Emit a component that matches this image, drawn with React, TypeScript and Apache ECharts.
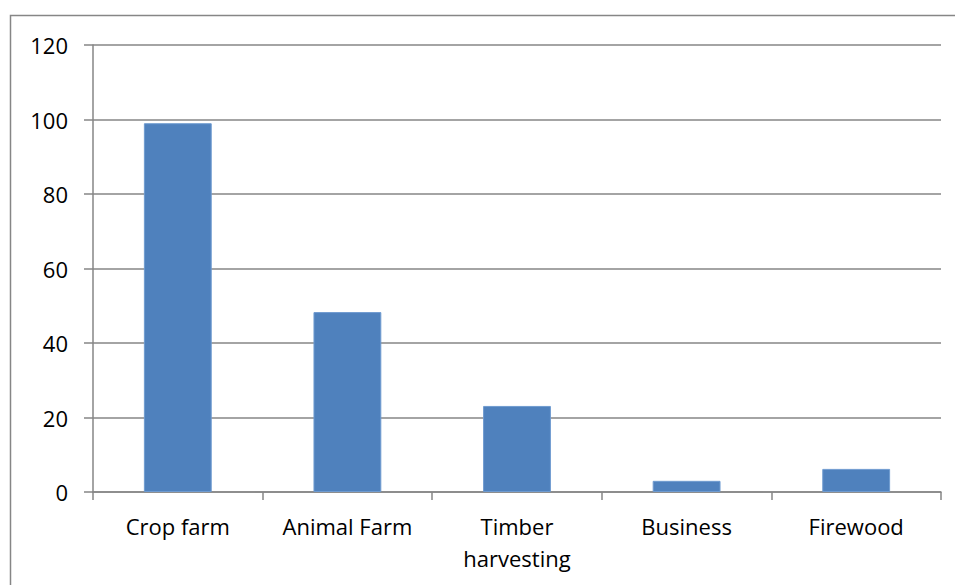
import React, { useEffect, useRef } from "react";
import * as echarts from "echarts";

const categories = ["Crop farm", "Animal Farm", "Timber\nharvesting", "Business", "Firewood"];
const values = [99, 48.3, 23.1, 3, 6.2];
const yTicks = { min: 0, max: 120, interval: 20 };

export default function App() {
  const ref = useRef<HTMLDivElement>(null);
  useEffect(() => {
    const chart = echarts.init(ref.current!, null, { renderer: "svg" });
    const font = "'Open Sans', sans-serif";
    chart.setOption({
      animation: false,
      backgroundColor: "#ffffff",
      graphic: [
        {
          type: "rect",
          shape: { x: 10.5, y: 15.5, width: 960, height: 600 },
          style: { fill: "none", stroke: "#868686", lineWidth: 1.5 },
          z: -1,
        },
      ],
      grid: { left: 93, right: 14, top: 45, bottom: 93, containLabel: false },
      xAxis: {
        type: "category",
        data: categories,
        boundaryGap: true,
        axisLine: { show: true, lineStyle: { color: "#868686", width: 1.5 } },
        axisTick: { show: true, alignWithLabel: false, length: 8, lineStyle: { color: "#868686", width: 1.5 } },
        axisLabel: {
          color: "#000000",
          fontFamily: font,
          fontSize: 22,
          margin: 18,
          lineHeight: 32,
          interval: 0,
        },
      },
      yAxis: {
        type: "value",
        min: yTicks.min,
        max: yTicks.max,
        interval: yTicks.interval,
        axisLine: { show: true, lineStyle: { color: "#868686", width: 1.5 } },
        axisTick: { show: true, inside: false, length: 9, lineStyle: { color: "#868686", width: 1.5 } },
        splitLine: { show: true, lineStyle: { color: "#868686", width: 1.5 } },
        axisLabel: {
          color: "#000000",
          fontFamily: font,
          fontSize: 22,
          margin: 25,
        },
      },
      series: [
        {
          type: "bar",
          data: values,
          barWidth: "40%",
          itemStyle: { color: "#4F81BD", borderColor: "#6F9BD0", borderWidth: 1 },
        },
      ],
    });
    return () => chart.dispose();
  }, []);
  return <div ref={ref} style={{ width: 955, height: 585, position: "absolute", left: 0, top: 0 }} />;
}
